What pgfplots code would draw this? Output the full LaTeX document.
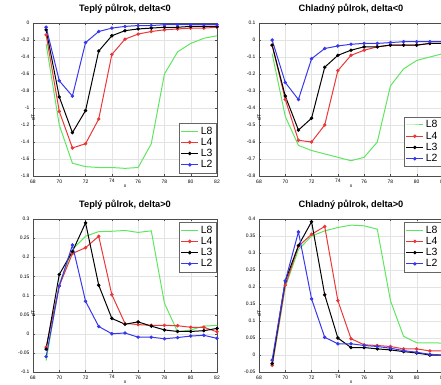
\documentclass[border=0pt]{standalone}
\usepackage{fontspec}
\setmainfont{Liberation Sans}
\usepackage{pgfplots}
\pgfplotsset{compat=1.18}
\definecolor{cg}{RGB}{95,230,95}
\definecolor{cr}{RGB}{235,55,55}
\definecolor{cb}{RGB}{55,55,235}
\pgfplotsset{
 panel/.style={
  scale only axis, width=184bp, height=153bp, anchor=south west,
  xmin=68, xmax=82, xtick={68,70,...,82},
  grid=major, major grid style={gray!22, line width=0.4pt},
  tick align=inside, major tick length=2bp,
  tick style={black!70},
  ticklabel style={font=\fontsize{5}{6}\selectfont},
  /pgf/number format/assume math mode=true,
  scaled y ticks=false,
  yticklabel style={/pgf/number format/fixed, /pgf/number format/precision=2},
  title style={font=\bfseries\fontsize{9.3}{11}\selectfont, at={(0.5,1)}, anchor=base, yshift=6bp},
  xlabel={x}, ylabel={dT},
  xlabel style={font=\fontsize{5}{6}\selectfont, at={(axis description cs:0.5,0)}, anchor=center, yshift=-10bp},
  ylabel style={font=\fontsize{5}{6}\selectfont, at={(axis description cs:0,0.5)}, anchor=center, xshift=-18bp},
  legend style={font=\fontsize{10.5}{12}\selectfont, draw=black!60, inner sep=1.5bp, row sep=-1.5bp},
  legend cell align=left,
  every axis plot/.append style={line width=1pt},
  axis line style={black!70},
 },
 pg/.style={cg, no marks},
 pr/.style={cr, mark=*, mark size=1.2pt},
 pk/.style={black, mark=*, mark size=1.2pt},
 pb/.style={cb, mark=*, mark size=1.2pt},
}
\begin{document}
\begin{tikzpicture}
\useasboundingbox (0bp,0bp) rectangle (441bp,-385bp);
\clip (0bp,0bp) rectangle (441bp,-385bp);
% Top left
\begin{axis}[panel, at={(33bp,-176bp)}, title={Teplý půlrok, delta<0},
  ymin=-1.8, ymax=0, ytick={-1.8,-1.6,...,0.01},
  legend style={at={(0.995,0.02)}, anchor=south east}]
\addplot[pg] coordinates {(69,-0.25)(70,-1.2)(71,-1.65)(72,-1.69)(73,-1.70)(74,-1.70)(75,-1.71)(76,-1.70)(77,-1.42)(78,-0.60)(79,-0.34)(80,-0.24)(81,-0.18)(82,-0.15)};
\addplot[pr] coordinates {(69,-0.14)(70,-1.04)(71,-1.47)(72,-1.42)(73,-1.13)(74,-0.37)(75,-0.19)(76,-0.13)(77,-0.10)(78,-0.08)(79,-0.07)(80,-0.06)(81,-0.06)(82,-0.05)};
\addplot[pk] coordinates {(69,-0.08)(70,-0.87)(71,-1.29)(72,-1.03)(73,-0.33)(74,-0.15)(75,-0.09)(76,-0.07)(77,-0.06)(78,-0.05)(79,-0.05)(80,-0.04)(81,-0.04)(82,-0.04)};
\addplot[pb] coordinates {(69,-0.05)(70,-0.68)(71,-0.86)(72,-0.23)(73,-0.10)(74,-0.06)(75,-0.04)(76,-0.03)(77,-0.03)(78,-0.02)(79,-0.02)(80,-0.02)(81,-0.02)(82,-0.02)};
\legend{L8,L4,L3,L2}
\end{axis}
% Top right
\begin{axis}[panel, at={(259bp,-176bp)}, title={Chladný půlrok, delta<0},
  ymin=-0.8, ymax=0.1, ytick={-0.8,-0.7,...,0.11},
  legend style={at={(0.99,0.06)}, anchor=south east}]
\addplot[pg] coordinates {(69,-0.08)(70,-0.45)(71,-0.62)(72,-0.65)(73,-0.67)(74,-0.69)(75,-0.71)(76,-0.69)(77,-0.60)(78,-0.27)(79,-0.17)(80,-0.12)(81,-0.10)(82,-0.08)};
\addplot[pr] coordinates {(69,-0.03)(70,-0.35)(71,-0.59)(72,-0.60)(73,-0.50)(74,-0.18)(75,-0.09)(76,-0.06)(77,-0.04)(78,-0.03)(79,-0.03)(80,-0.03)(81,-0.02)(82,-0.02)};
\addplot[pk] coordinates {(69,-0.03)(70,-0.33)(71,-0.53)(72,-0.46)(73,-0.16)(74,-0.09)(75,-0.06)(76,-0.04)(77,-0.04)(78,-0.03)(79,-0.03)(80,-0.03)(81,-0.02)(82,-0.02)};
\addplot[pb] coordinates {(69,0.00)(70,-0.25)(71,-0.35)(72,-0.11)(73,-0.05)(74,-0.035)(75,-0.025)(76,-0.02)(77,-0.02)(78,-0.015)(79,-0.01)(80,-0.01)(81,-0.01)(82,-0.01)};
\legend{L8,L4,L3,L2}
\end{axis}
% Bottom left
\begin{axis}[panel, at={(33bp,-372bp)}, title={Teplý půlrok, delta>0},
  ymin=-0.1, ymax=0.3, ytick={-0.1,-0.05,...,0.31},
  legend style={at={(0.995,0.98)}, anchor=north east}]
\addplot[pg] coordinates {(69,-0.07)(70,0.13)(71,0.22)(72,0.255)(73,0.267)(74,0.268)(75,0.27)(76,0.265)(77,0.269)(78,0.08)(79,0.005)(80,0.01)(81,0.02)(82,0.022)};
\addplot[pr] coordinates {(69,-0.035)(70,0.125)(71,0.21)(72,0.225)(73,0.255)(74,0.102)(75,0.027)(76,0.024)(77,0.022)(78,0.022)(79,0.021)(80,0.017)(81,0.017)(82,0.005)};
\addplot[pk] coordinates {(69,-0.04)(70,0.155)(71,0.215)(72,0.29)(73,0.127)(74,0.04)(75,0.025)(76,0.031)(77,0.02)(78,0.01)(79,0.006)(80,0.006)(81,0.008)(82,0.014)};
\addplot[pb] coordinates {(69,-0.06)(70,0.125)(71,0.232)(72,0.085)(73,0.019)(74,0.0)(75,0.002)(76,-0.009)(77,-0.009)(78,-0.013)(79,-0.01)(80,-0.006)(81,-0.004)(82,-0.012)};
\legend{L8,L4,L3,L2}
\end{axis}
% Bottom right
\begin{axis}[panel, at={(259bp,-372bp)}, title={Chladný půlrok, delta>0},
  ymin=-0.05, ymax=0.4, ytick={-0.05,0,...,0.41},
  legend style={at={(0.99,0.98)}, anchor=north east}]
\addplot[pg] coordinates {(69,-0.035)(70,0.20)(71,0.31)(72,0.35)(73,0.365)(74,0.375)(75,0.382)(76,0.38)(77,0.37)(78,0.16)(79,0.055)(80,0.036)(81,0.036)(82,0.035)};
\addplot[pr] coordinates {(69,-0.03)(70,0.205)(71,0.32)(72,0.355)(73,0.378)(74,0.16)(75,0.048)(76,0.03)(77,0.028)(78,0.025)(79,0.018)(80,0.018)(81,0.012)(82,0.012)};
\addplot[pk] coordinates {(69,-0.025)(70,0.218)(71,0.322)(72,0.392)(73,0.177)(74,0.05)(75,0.022)(76,0.022)(77,0.018)(78,0.015)(79,0.01)(80,0.006)(81,0.0)(82,0.0)};
\addplot[pb] coordinates {(69,-0.015)(70,0.218)(71,0.362)(72,0.165)(73,0.052)(74,0.033)(75,0.033)(76,0.028)(77,0.025)(78,0.02)(79,0.013)(80,0.008)(81,0.002)(82,0.0)};
\legend{L8,L4,L3,L2}
\end{axis}
\end{tikzpicture}
\end{document}
